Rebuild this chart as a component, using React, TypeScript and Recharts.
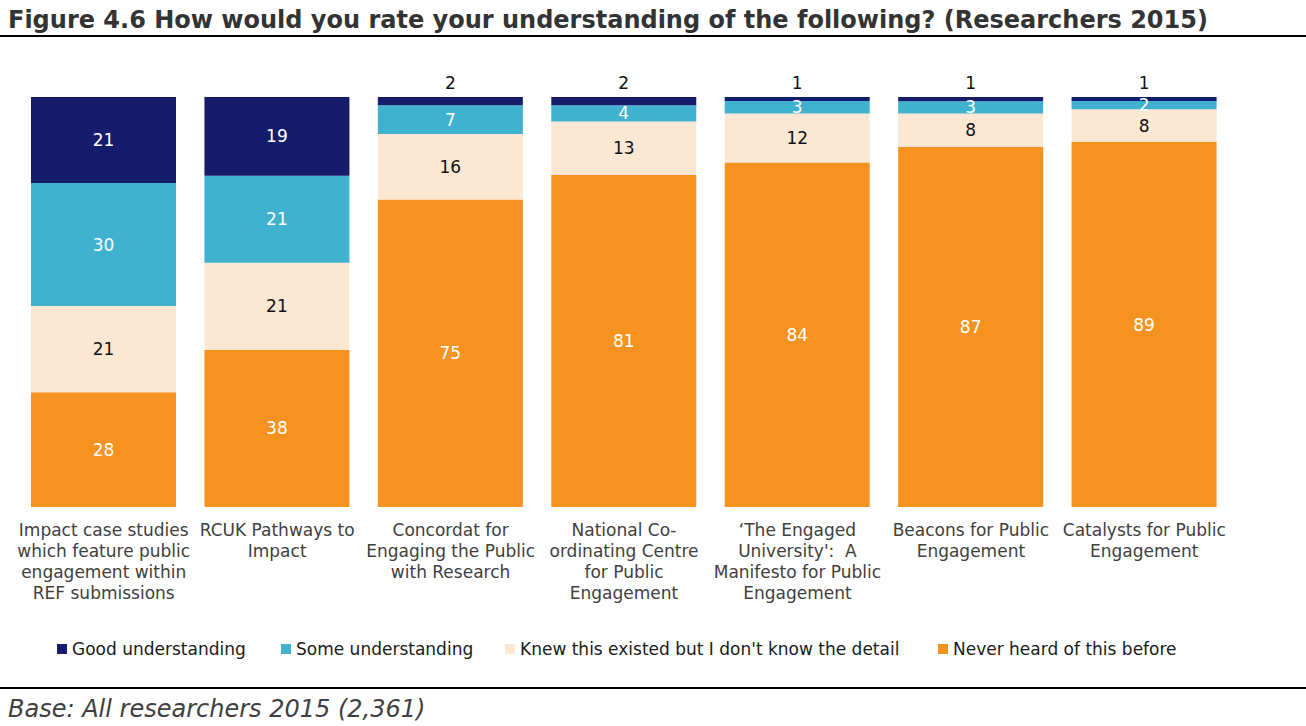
import { BarChart, Bar, XAxis, YAxis } from "recharts";

const categories = [
  "Impact case studies\nwhich feature public\nengagement within\nREF submissions",
  "RCUK Pathways to\nImpact",
  "Concordat for\nEngaging the Public\nwith Research",
  "National Co-\nordinating Centre\nfor Public\nEngagement",
  "\u2018The Engaged\nUniversity':  A\nManifesto for Public\nEngagement",
  "Beacons for Public\nEngagement",
  "Catalysts for Public\nEngagement",
];

const goodUnderstanding = [21, 19, 2, 2, 1, 1, 1];
const someUnderstanding = [30, 21, 7, 4, 3, 3, 2];
const knewExisted = [21, 21, 16, 13, 12, 8, 8];
const neverHeard = [28, 38, 75, 81, 84, 87, 89];

const seriesNames = [
  "Good understanding",
  "Some understanding",
  "Knew this existed but I don't know the detail",
  "Never heard of this before",
];
const seriesColors = ["#161c6c", "#40b1ce", "#fce7d3", "#f6921f"];

const data = categories.map((name, i) => ({
  name,
  good: goodUnderstanding[i],
  some: someUnderstanding[i],
  knew: knewExisted[i],
  never: neverHeard[i],
}));

const FONT = "Verdana, 'DejaVu Sans', sans-serif";
const legendLeft = [57, 281, 505, 938];

// small segments get their label drawn above the bar
const makeLabel =
  (values: number[], color: string, aboveIfAtMost = 0) =>
  (props: any) => {
    const { x, y, width, height, index } = props;
    const v = values[index];
    const cx = Number(x) + Number(width) / 2;
    if (v <= aboveIfAtMost) {
      return (
        <text x={cx} y={Number(y) - 14} textAnchor="middle" dominantBaseline="central"
          fill="#111" fontSize={17} fontFamily={FONT}>
          {v}
        </text>
      );
    }
    return (
      <text x={cx} y={Number(y) + Number(height) / 2} textAnchor="middle" dominantBaseline="central"
        fill={color} fontSize={17} fontFamily={FONT}>
        {v}
      </text>
    );
  };

const CategoryTick = (props: any) => {
  const { x, y, payload } = props;
  const lines = String(payload.value).split("\n");
  return (
    <g transform={`translate(${x},${y})`}>
      <text textAnchor="middle" fill="#404040" fontSize={17} fontFamily={FONT} style={{ whiteSpace: "pre" }}>
        {lines.map((l, i) => (
          <tspan key={i} x={0} dy={i === 0 ? 21 : 21}>
            {l}
          </tspan>
        ))}
      </text>
    </g>
  );
};

export default function App() {
  return (
    <div style={{ position: "absolute", left: 0, top: 0, width: 1306, height: 726, background: "#fff", fontFamily: FONT }}>
      <div style={{ position: "absolute", left: 8, top: 8, fontSize: 24, lineHeight: 1, fontWeight: "bold", color: "#333", whiteSpace: "nowrap" }}>
        Figure 4.6 How would you rate your understanding of the following? (Researchers 2015)
      </div>
      <div style={{ position: "absolute", left: 0, top: 35, width: 1306, height: 2, background: "#000" }} />

      <div style={{ position: "absolute", left: 0, top: 0 }}>
        <BarChart
          width={1306}
          height={620}
          data={data}
          stackOffset="expand"
          barSize={145}
          margin={{ top: 97, right: 75, left: 17, bottom: 0 }}
        >
          <XAxis dataKey="name" axisLine={false} tickLine={false} height={113} interval={0} tick={<CategoryTick />} />
          <YAxis hide domain={[0, 1]} />
          <Bar dataKey="never" stackId="a" fill={seriesColors[3]} isAnimationActive={false}
            label={makeLabel(neverHeard, "#fff")} />
          <Bar dataKey="knew" stackId="a" fill={seriesColors[2]} isAnimationActive={false}
            label={makeLabel(knewExisted, "#111")} />
          <Bar dataKey="some" stackId="a" fill={seriesColors[1]} isAnimationActive={false}
            label={makeLabel(someUnderstanding, "#fff")} />
          <Bar dataKey="good" stackId="a" fill={seriesColors[0]} isAnimationActive={false}
            label={makeLabel(goodUnderstanding, "#fff", 2)} />
        </BarChart>
      </div>

      {seriesNames.map((n, i) => (
        <div key={n} style={{ position: "absolute", left: legendLeft[i], top: 639, display: "flex", alignItems: "center", fontSize: 17, color: "#1a1a1a", whiteSpace: "nowrap" }}>
          <span style={{ display: "inline-block", width: 10, height: 10, background: seriesColors[i], marginRight: 5 }} />
          <span>{n}</span>
        </div>
      ))}

      <div style={{ position: "absolute", left: 0, top: 687, width: 1306, height: 2, background: "#000" }} />
      <div style={{ position: "absolute", left: 8, top: 697, fontSize: 24, lineHeight: 1, fontStyle: "italic", color: "#404040", whiteSpace: "nowrap" }}>
        Base: All researchers 2015 (2,361)
      </div>
    </div>
  );
}
